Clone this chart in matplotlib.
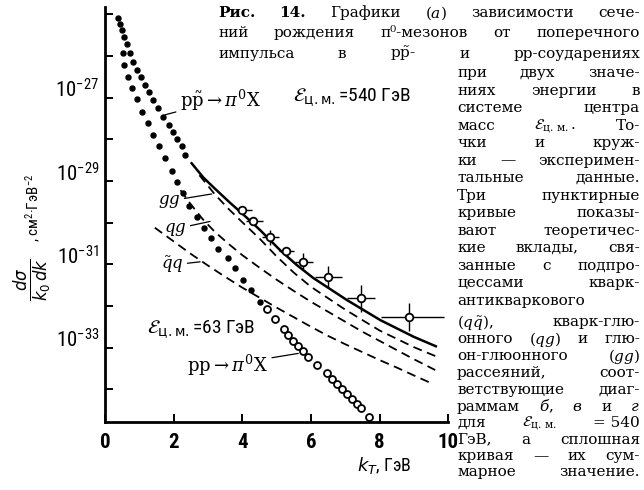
import matplotlib
matplotlib.use("Agg")
import matplotlib.pyplot as plt
import numpy as np
from matplotlib import font_manager
from matplotlib.ticker import FixedLocator, NullLocator
from matplotlib.transforms import IdentityTransform

# ----- data: k_T in GeV, cross section given as log10 (cm^2 GeV^-2) -----
# p-pbar -> pi0 X, 540 GeV, dotted part (small k_T)
ppbar_k = [0.39, 0.44, 0.50, 0.55, 0.65, 0.73, 0.83, 0.92, 1.04, 1.17, 1.29,
           1.41, 1.55, 1.70, 1.85, 1.97, 2.11, 2.24, 2.33]
ppbar_lg = [-25.08, -25.22, -25.38, -25.54, -25.70, -25.93, -26.15, -26.34,
            -26.50, -26.69, -26.87, -27.05, -27.25, -27.45, -27.65, -27.83,
            -27.99, -28.17, -28.37]

# p-p -> pi0 X, 63 GeV: dots, then open circles
pp63_k = [0.51, 0.55, 0.68, 0.78, 0.93, 1.08, 1.26, 1.41, 1.58, 1.75, 1.94,
          2.10, 2.28, 2.46, 2.67, 2.87, 3.09, 3.30, 3.57, 3.79, 4.01, 4.26, 4.52]
pp63_lg = [-25.92, -26.21, -26.49, -26.77, -27.03, -27.33, -27.61, -27.89,
           -28.17, -28.45, -28.77, -29.02, -29.29, -29.60, -29.87, -30.13,
           -30.37, -30.64, -30.85, -31.09, -31.38, -31.62, -31.90]
circ_k = [4.71, 4.96, 5.20, 5.34, 5.49, 5.63, 5.77, 5.92, 6.17, 6.46, 6.62,
          6.76, 6.91, 7.05, 7.20, 7.35, 7.46, 7.68]
circ_lg = [-32.08, -32.32, -32.55, -32.70, -32.83, -32.96, -33.08, -33.23,
           -33.42, -33.62, -33.75, -33.88, -34.00, -34.12, -34.24, -34.36,
           -34.46, -34.66]

# 540 GeV theory: sum (solid) and the three subprocesses (dashed)
sum_k = [2.50, 2.87, 3.21, 3.64, 4.13, 4.52, 5.10, 5.59, 6.07, 7.05, 8.02, 8.99, 9.67]
sum_lg = [-28.55, -28.92, -29.19, -29.52, -29.88, -30.18, -30.66, -31.02,
          -31.33, -31.86, -32.34, -32.74, -32.98]
gg_k = [2.75, 3.2, 3.6, 4.0, 4.5, 5.0, 5.5, 6.0, 7.0, 8.0, 9.0, 9.67]
gg_lg = [-28.86, -29.32, -29.67, -29.99, -30.38, -30.81, -31.20, -31.54,
         -32.09, -32.59, -32.99, -33.22]
qg_k = [2.2, 2.5, 2.86, 3.2, 3.6, 4.0, 4.5, 5.0, 5.5, 6.0, 6.5, 7.0, 7.5,
        8.0, 8.5, 9.0, 9.62]
qg_lg = [-29.22, -29.56, -29.93, -30.22, -30.51, -30.78, -31.08, -31.37,
         -31.64, -31.90, -32.14, -32.38, -32.62, -32.84, -33.06, -33.28, -33.54]
qq_k = [1.45, 2.0, 2.5, 3.0, 3.5, 4.0, 4.5, 5.0, 5.5, 6.0, 6.5, 7.0, 7.5,
        8.0, 8.5, 9.0, 9.57]
qq_lg = [-30.12, -30.45, -30.75, -31.03, -31.30, -31.56, -31.80, -32.04,
         -32.27, -32.50, -32.72, -32.92, -33.11, -33.30, -33.48, -33.67, -33.88]

# 540 GeV measured points
pt_k = [3.99, 4.32, 4.81, 5.28, 5.78, 6.51, 7.45, 8.86]
pt_lg = [-29.69, -29.97, -30.35, -30.68, -30.94, -31.31, -31.82, -32.26]
pt_klo = [0.15, 0.20, 0.25, 0.22, 0.24, 0.39, 0.40, 0.82]
pt_khi = [0.30, 0.28, 0.25, 0.22, 0.29, 0.39, 0.42, 1.02]
pt_dec = [0.0, 0.0, 0.18, 0.10, 0.20, 0.26, 0.32, 0.34]   # error, decades

y_powers = list(range(-34, -24))
y_labelled = [-33, -31, -29, -27]
x_ticks = [0, 2, 4, 6, 8, 10]

# ----- fonts: a narrow sans for the figure lettering if one is there -----
ttf = font_manager.fontManager.ttflist
names = {f.name for f in ttf}
stretch = 'normal'
if 'Liberation Sans Narrow' in names:
    narrow = 'Liberation Sans Narrow'
elif 'Roboto Condensed' in names:
    narrow = 'Roboto Condensed'
elif any(f.name == 'DejaVu Sans' and 'ondensed' in f.fname for f in ttf):
    narrow, stretch = 'DejaVu Sans', 'condensed'
else:
    narrow = 'DejaVu Sans'
pattern = narrow if stretch == 'normal' else narrow + ':' + stretch

plt.rcParams['font.family'] = [narrow, 'DejaVu Sans']
plt.rcParams['font.stretch'] = stretch
plt.rcParams['mathtext.fontset'] = 'custom'
plt.rcParams['mathtext.rm'] = pattern
plt.rcParams['mathtext.it'] = pattern + ':italic'
plt.rcParams['mathtext.bf'] = pattern + ':bold'
plt.rcParams['lines.scale_dashes'] = False

W, H = 644, 490
fig = plt.figure(figsize=(W / 100, H / 100), dpi=100)
ax = fig.add_axes([105 / W, 1 - 421.7 / H, (448.3 - 105) / W, (421.7 - 7) / H])


def ex(v):
    return 10.0 ** np.asarray(v, dtype=float)


ax.plot(ppbar_k, ex(ppbar_lg), ls='none', marker='o', ms=3.6, color='k')
ax.plot(pp63_k, ex(pp63_lg), ls='none', marker='o', ms=3.6, color='k')
ax.plot(circ_k, ex(circ_lg), ls='none', marker='o', ms=5, mfc='white', mec='k', mew=1.3)
ax.plot(sum_k, ex(sum_lg), color='k', lw=1.8, solid_capstyle='butt')
for k, lg in [(gg_k, gg_lg), (qg_k, qg_lg), (qq_k, qq_lg)]:
    ax.plot(k, ex(lg), color='k', lw=1.3, dashes=(6.5, 4))

yv = ex(pt_lg)
e = np.array(pt_dec)
ax.errorbar(pt_k, yv, xerr=[pt_klo, pt_khi], yerr=[yv * (1 - 10 ** -e), yv * (10 ** e - 1)],
            fmt='o', ms=5.5, mfc='white', mec='k', mew=1.3, ecolor='k',
            elinewidth=1.0, capsize=0, zorder=5)

# ----- axes -----
ax.set_yscale('log')
ax.set_xlim(0, 10)
ax.set_ylim(10 ** -34.78, 10 ** -24.82)
ax.set_xticks(x_ticks)
ax.set_xticklabels([str(t) for t in x_ticks], fontsize=15, fontweight='bold')
ax.yaxis.set_major_locator(FixedLocator([10.0 ** p for p in y_powers]))
ax.yaxis.set_minor_locator(NullLocator())
ax.set_yticklabels([r'$10^{%d}$' % p if p in y_labelled else '' for p in y_powers], fontsize=15)
for lab in ax.get_yticklabels():
    lab.set_verticalalignment('baseline')
ax.tick_params(axis='both', direction='in', length=6, width=1.4, color='k')
ax.tick_params(axis='x', pad=8)
ax.tick_params(axis='y', pad=4)
for s in ['top', 'right']:
    ax.spines[s].set_visible(False)
for s in ['left', 'bottom']:
    ax.spines[s].set_linewidth(2)

# ----- labels inside the plot -----
serif = dict(math_fontfamily='dejavuserif', fontsize=13)
arrow = dict(arrowstyle='-', lw=0.9, color='k', shrinkA=1, shrinkB=0)
ax.annotate(r'$\mathrm{p}\tilde{\mathrm{p}}\rightarrow\pi^0\mathrm{X}$', xy=(1.75, ex(-27.41)),
            xytext=(180, H - 100), textcoords='figure pixels', ha='left', va='center',
            arrowprops=arrow, **serif)
ax.annotate(r'$gg$', xy=(3.11, ex(-29.31)), xytext=(169, H - 201), textcoords='figure pixels',
            ha='center', va='center', arrowprops=arrow, math_fontfamily='dejavuserif', fontsize=12)
ax.annotate(r'$qg$', xy=(3.06, ex(-29.97)), xytext=(175, H - 229), textcoords='figure pixels',
            ha='center', va='center', arrowprops=arrow, math_fontfamily='dejavuserif', fontsize=12)
ax.annotate(r'$\tilde{q}q$', xy=(2.77, ex(-30.94)), xytext=(172, H - 265), textcoords='figure pixels',
            ha='center', va='center', arrowprops=arrow, math_fontfamily='dejavuserif', fontsize=12)
ax.annotate(r'$\mathrm{pp}\rightarrow\pi^0\mathrm{X}$', xy=(5.63, ex(-33.14)),
            xytext=(187, H - 365), textcoords='figure pixels', ha='left', va='center',
            arrowprops=arrow, **serif)
fig.text(293, H - 98, r'$\mathcal{E}_{\rm ц.м.}$=540 ГэВ', transform=IdentityTransform(),
         fontsize=14, math_fontfamily='dejavusans', ha='left', va='center')
fig.text(147, H - 330, r'$\mathcal{E}_{\rm ц.м.}$=63 ГэВ', transform=IdentityTransform(),
         fontsize=14, math_fontfamily='dejavusans', ha='left', va='center')

# axis titles
fig.text(33, H - 280, r'$\frac{d\sigma}{k_0\,dk}$', transform=IdentityTransform(), rotation=90,
         fontsize=17, math_fontfamily='dejavusans', ha='center', va='center')
fig.text(33, H - 208, ', см$^2$·ГэВ$^{-2}$', transform=IdentityTransform(), rotation=90,
         fontsize=11, ha='center', va='center')
fig.text(384, H - 465, r'$k_T$, ГэВ', transform=IdentityTransform(), fontsize=13,
         math_fontfamily='dejavusans', ha='center', va='center')

# ----- caption (justified lines) -----
renderer = fig.canvas.get_renderer()
E = r'$\mathcal{E}_{\rm ц.\,м.}$'
caption = [
    (218, 13, ['Рис.', '14.', 'Графики', '($a$)', 'зависимости', 'сече-']),
    (218, 33, ['ний', 'рождения', 'π⁰-мезонов', 'от', 'поперечного']),
    (218, 54, ['импульса', 'в', r'p$\tilde{\mathrm{p}}$-', 'и', 'pp-соударениях']),
    (457, 73, ['при', 'двух', 'значе-']),
    (457, 90.5, ['ниях', 'энергии', 'в']),
    (457, 108, ['системе', 'центра']),
    (457, 125.5, ['масс', E + '.', 'То-']),
    (457, 143, ['чки', 'и', 'круж-']),
    (457, 160.5, ['ки', '—', 'эксперимен-']),
    (457, 178, ['тальные', 'данные.']),
    (457, 195.5, ['Три', 'пунктирные']),
    (457, 213, ['кривые', 'показы-']),
    (457, 230.5, ['вают', 'теоретичес-']),
    (457, 248, ['кие', 'вклады,', 'свя-']),
    (457, 265.5, ['занные', 'с', 'подпро-']),
    (457, 283, ['цессами', 'кварк-']),
    (457, 300.5, ['антикваркового']),
    (457, 322, [r'($q\tilde{q}$),', 'кварк-глю-']),
    (457, 339, ['онного', '($qg$)', 'и', 'глю-']),
    (457, 356, ['он-глюонного', '($gg$)']),
    (457, 373, ['рассеяний,', 'соот-']),
    (457, 390, ['ветствующие', 'диаг-']),
    (457, 406.5, ['раммам', '$б$,', '$в$', 'и', '$г$']),
    (457, 423, ['для', E, '= 540']),
    (457, 439.5, ['ГэВ,', 'а', 'сплошная']),
    (457, 456, ['кривая', '—', 'их', 'сум-']),
    (457, 472, ['марное', 'значение.']),
]
x_right = 640
for i, (x0, y, words) in enumerate(caption):
    arts = []
    for w in words:
        bold = i == 0 and w in ('Рис.', '14.')
        arts.append(fig.text(0, 0, w, transform=IdentityTransform(), family='DejaVu Serif',
                             fontsize=11, fontstretch='normal',
                             fontweight='bold' if bold else 'normal',
                             math_fontfamily='dejavuserif', ha='left', va='center'))
    widths = [t.get_window_extent(renderer).width for t in arts]
    gap = (x_right - x0 - sum(widths)) / (len(arts) - 1) if len(arts) > 1 else 0
    x = x0
    for t, wd in zip(arts, widths):
        t.set_position((x, H - y))
        x += wd + gap

fig.savefig('out.png', dpi=100)
